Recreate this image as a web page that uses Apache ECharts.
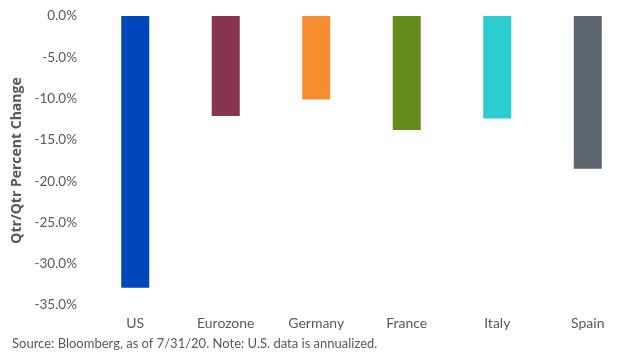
<!DOCTYPE html>
<html>
<head>
<meta charset="utf-8">
<script src="https://cdn.jsdelivr.net/npm/echarts@6/dist/echarts.min.js"></script>
<style>
  html, body { margin: 0; padding: 0; background: #fff; }
  #chart { width: 637px; height: 360px; }
</style>
</head>
<body>
<div id="chart"></div>
<script>
  // values
  var countries = ['US', 'Eurozone', 'Germany', 'France', 'Italy', 'Spain'];
  var qtrChange = [-32.9, -12.1, -10.1, -13.8, -12.4, -18.5];
  var barColors = ['#0047BB', '#873450', '#F68D2E', '#648C1C', '#2DCCD3', '#5B6670'];
  var sourceNote = 'Source: Bloomberg, as of 7/31/20. Note: U.S. data is annualized.';

  var textColor = '#595959';
  var chart = echarts.init(document.getElementById('chart'));

  chart.setOption({
    animation: false,
    textStyle: { fontFamily: 'Lato' },
    grid: { left: 90, right: 4, top: 16, bottom: 55 },
    graphic: [{
      type: 'text',
      left: 12,
      top: 337,
      style: { text: sourceNote, fill: textColor, font: '13px Lato' }
    }],
    xAxis: {
      type: 'category',
      data: countries,
      axisLine: { show: false },
      axisTick: { show: false },
      axisLabel: {
        color: textColor,
        fontSize: 14,
        margin: 11
      }
    },
    yAxis: {
      type: 'value',
      min: -35,
      max: 0,
      interval: 5,
      name: 'Qtr/Qtr Percent Change',
      nameLocation: 'middle',
      nameGap: 63,
      nameTextStyle: { color: textColor, fontSize: 14, fontWeight: 'bold', fontFamily: 'Open Sans' },
      axisLine: { show: false },
      axisTick: { show: false },
      splitLine: { show: false },
      axisLabel: {
        color: textColor,
        fontSize: 13.5,
        margin: 13,
        formatter: function (v) { return v.toFixed(1) + '%'; }
      }
    },
    series: [{
      type: 'bar',
      barWidth: 28,
      data: qtrChange.map(function (v, i) {
        return { value: v, itemStyle: { color: barColors[i] } };
      })
    }]
  });
</script>
</body>
</html>
